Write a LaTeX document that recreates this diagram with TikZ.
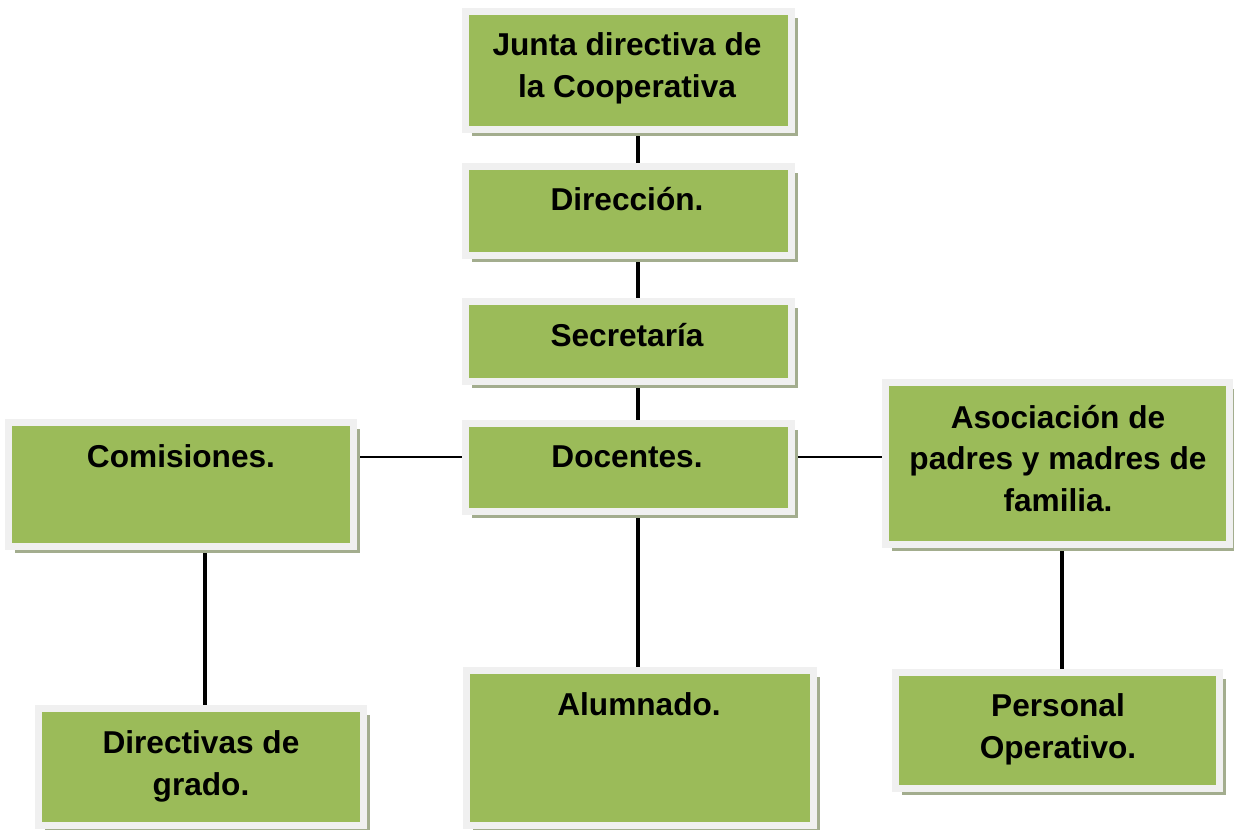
\documentclass[tikz,border=0pt]{standalone}
\usepackage{fontspec}
\setmainfont{Liberation Sans}
\usetikzlibrary{shadows,backgrounds}
\definecolor{boxgreen}{HTML}{9BBB59}
\definecolor{framegray}{HTML}{F0F0F0}
\definecolor{shadowgreen}{HTML}{A3AD8E}
\tikzset{
  orgbox/.style={draw=framegray, line width=0.14cm, fill=boxgreen, inner sep=0pt,
    drop shadow={shadow xshift=0.13cm, shadow yshift=-0.13cm, fill=shadowgreen, opacity=1}},
  lbl/.style={anchor=base, align=center, inner sep=0pt,
    font=\fontsize{18}{23.6}\selectfont\bfseries},
  vlink/.style={line width=2.1pt, black},
  hlink/.style={line width=1.3pt, black}
}
\begin{document}
\begin{tikzpicture}[x=0.02cm, y=-0.02cm]
\useasboundingbox (0,0) rectangle (1234,829);
% boxes
\node[orgbox, minimum width=6.52cm, minimum height=2.36cm] (junta) at (628.5,70.5) {};
\node[orgbox, minimum width=6.52cm, minimum height=1.78cm] (dir) at (628.5,211) {};
\node[orgbox, minimum width=6.52cm, minimum height=1.60cm] (sec) at (628.5,341.5) {};
\node[orgbox, minimum width=6.52cm, minimum height=1.76cm] (doc) at (628.5,467.5) {};
\node[orgbox, minimum width=6.90cm, minimum height=2.48cm] (com) at (181,484.5) {};
\node[orgbox, minimum width=6.88cm, minimum height=3.24cm] (aso) at (1057.5,463.5) {};
\node[orgbox, minimum width=6.50cm, minimum height=2.34cm] (dirg) at (201,767) {};
\node[orgbox, minimum width=6.94cm, minimum height=3.10cm] (alu) at (640,748) {};
\node[orgbox, minimum width=6.48cm, minimum height=2.32cm] (per) at (1057.5,730.5) {};
% labels (base anchor = baseline of last line)
\node[lbl] (tjunta) at (627,97) {Junta directiva de\\la Cooperativa};
\node[lbl] (tdir) at (627,210) {Dirección.};
\node[lbl] (tsec) at (627,346) {Secretaría};
\node[lbl] (tdoc) at (627,467) {Docentes.};
\node[lbl] (tcom) at (181,467) {Comisiones.};
\node[lbl] (taso) at (1058,511) {Asociación de\\padres y madres de\\familia.};
\node[lbl] (tdirg) at (201,795) {Directivas de\\grado.};
\node[lbl] (talu) at (639,715) {Alumnado.};
\node[lbl] (tper) at (1058,758) {Personal\\Operativo.};
% connectors
\coordinate (cx) at (638,0);
\coordinate (lx) at (205,0);
\coordinate (rx) at (1062,0);
\coordinate (hy) at (0,457);
\begin{scope}[on background layer]
\draw[vlink] (junta.south -| cx) -- (dir.north -| cx);
\draw[vlink] (dir.south -| cx) -- (sec.north -| cx);
\draw[vlink] (sec.south -| cx) -- (doc.north -| cx);
\draw[vlink] (doc.south -| cx) -- (alu.north -| cx);
\draw[hlink] (com.east |- hy) -- (doc.west |- hy);
\draw[hlink] (doc.east |- hy) -- (aso.west |- hy);
\draw[vlink] (com.south -| lx) -- (dirg.north -| lx);
\draw[vlink] (aso.south -| rx) -- (per.north -| rx);
\end{scope}
\end{tikzpicture}
\end{document}
